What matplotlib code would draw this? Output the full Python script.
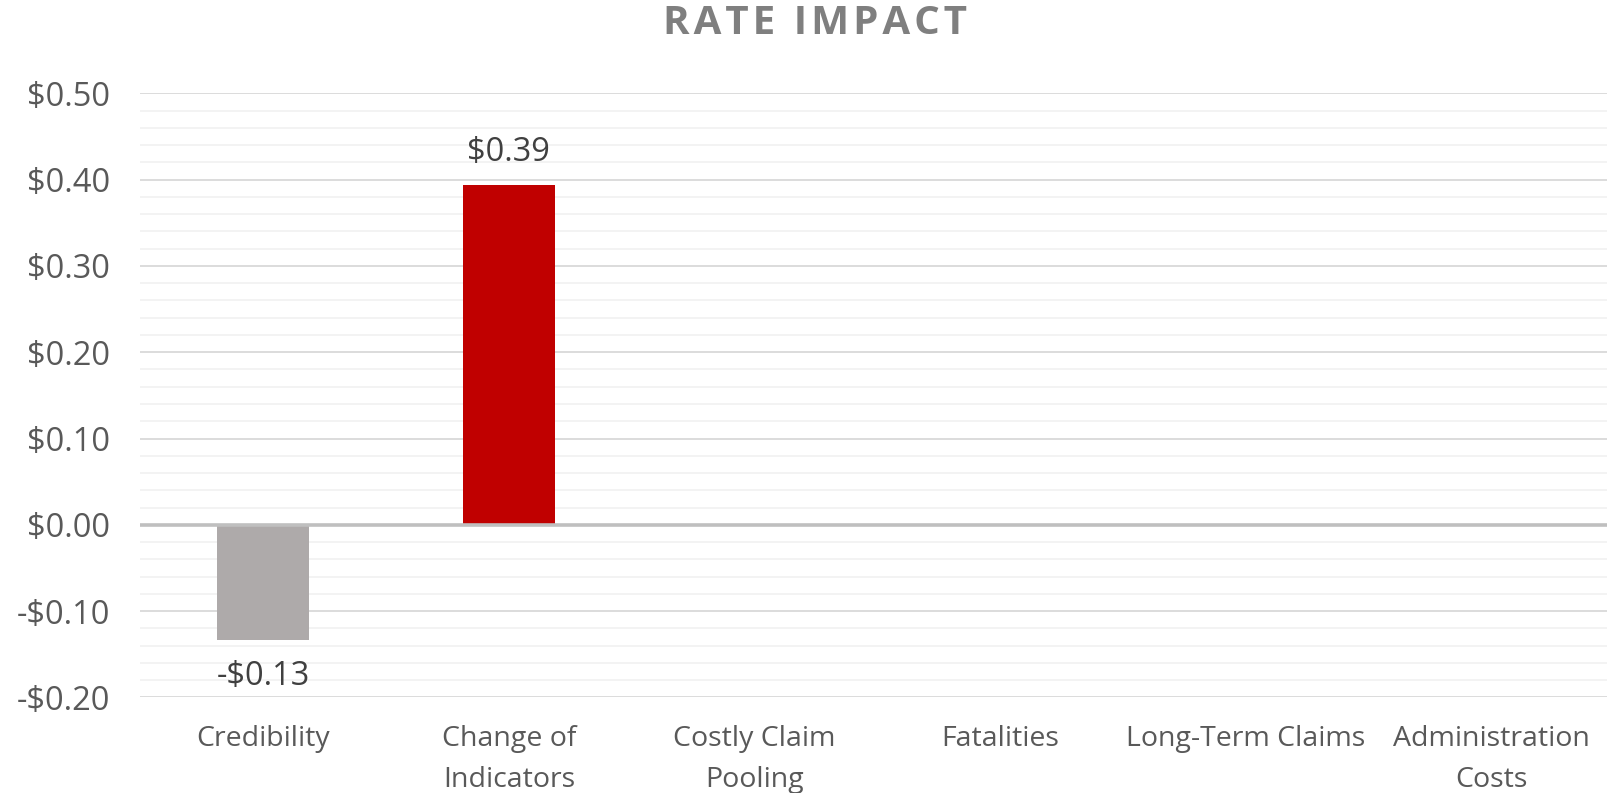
import matplotlib
matplotlib.use("Agg")
import matplotlib.pyplot as plt
from matplotlib.ticker import MultipleLocator, FuncFormatter

categories = ["Credibility", "Change of\nIndicators", "Costly Claim\nPooling",
              "Fatalities", "Long-Term Claims", "Administration\nCosts"]
values = [-0.134, 0.394, 0.0, 0.0, 0.0, 0.0]
colors = ["#AEAAAA", "#C00000", "#C00000", "#C00000", "#C00000", "#C00000"]
title = "RATE IMPACT"

plt.rcParams['font.family'] = ['Open Sans', 'DejaVu Sans']

fig = plt.figure(figsize=(16.08, 7.93), dpi=100)
ax = fig.add_axes([140.5/1608, 1-697.4/793, (1614-140.5)/1608, (697.4-93.3)/793])

x = list(range(len(categories)))
ax.bar(x, values, width=0.376, color=colors, zorder=3)
ax.axhline(0, color="#BFBFBF", lw=2.6, zorder=4)

ax.set_xlim(-0.5, len(categories) - 0.5)
ax.set_ylim(-0.2, 0.5)
ax.yaxis.set_major_locator(MultipleLocator(0.1))
ax.yaxis.set_minor_locator(MultipleLocator(0.02))
ax.yaxis.set_major_formatter(FuncFormatter(lambda v, p: ("-$" if v < -1e-9 else "$") + f"{abs(v):.2f}"))
ax.grid(which="major", axis="y", color="#D9D9D9", lw=1.3, zorder=0)
ax.grid(which="minor", axis="y", color="#F2F2F2", lw=1.3, zorder=0)
for s in ax.spines.values():
    s.set_visible(False)
ax.tick_params(axis="y", which="both", length=0, labelsize=23.5, labelcolor="#595959", pad=22)
ax.tick_params(axis="x", length=0, labelsize=20.5, labelcolor="#595959", pad=20)
ax.set_xticks(x)
ax.set_xticklabels(categories, linespacing=1.62)

for xi, v in zip(x, values):
    if v == 0:
        continue
    lab = ("-$" if v < 0 else "$") + f"{abs(v):.2f}"
    off = 23 if v > 0 else -26
    ax.annotate(lab, (xi, v), xytext=(0, off), textcoords="offset points",
                ha="center", va="center", fontsize=23.5, color="#404040")

spaced_title = "\u200a".join(title)
fig.text(795/1568, 1-24/793, spaced_title, ha="center", va="center", fontsize=29,
         fontweight="bold", color="#7F7F7F")

fig.savefig("out.png", dpi=100)
